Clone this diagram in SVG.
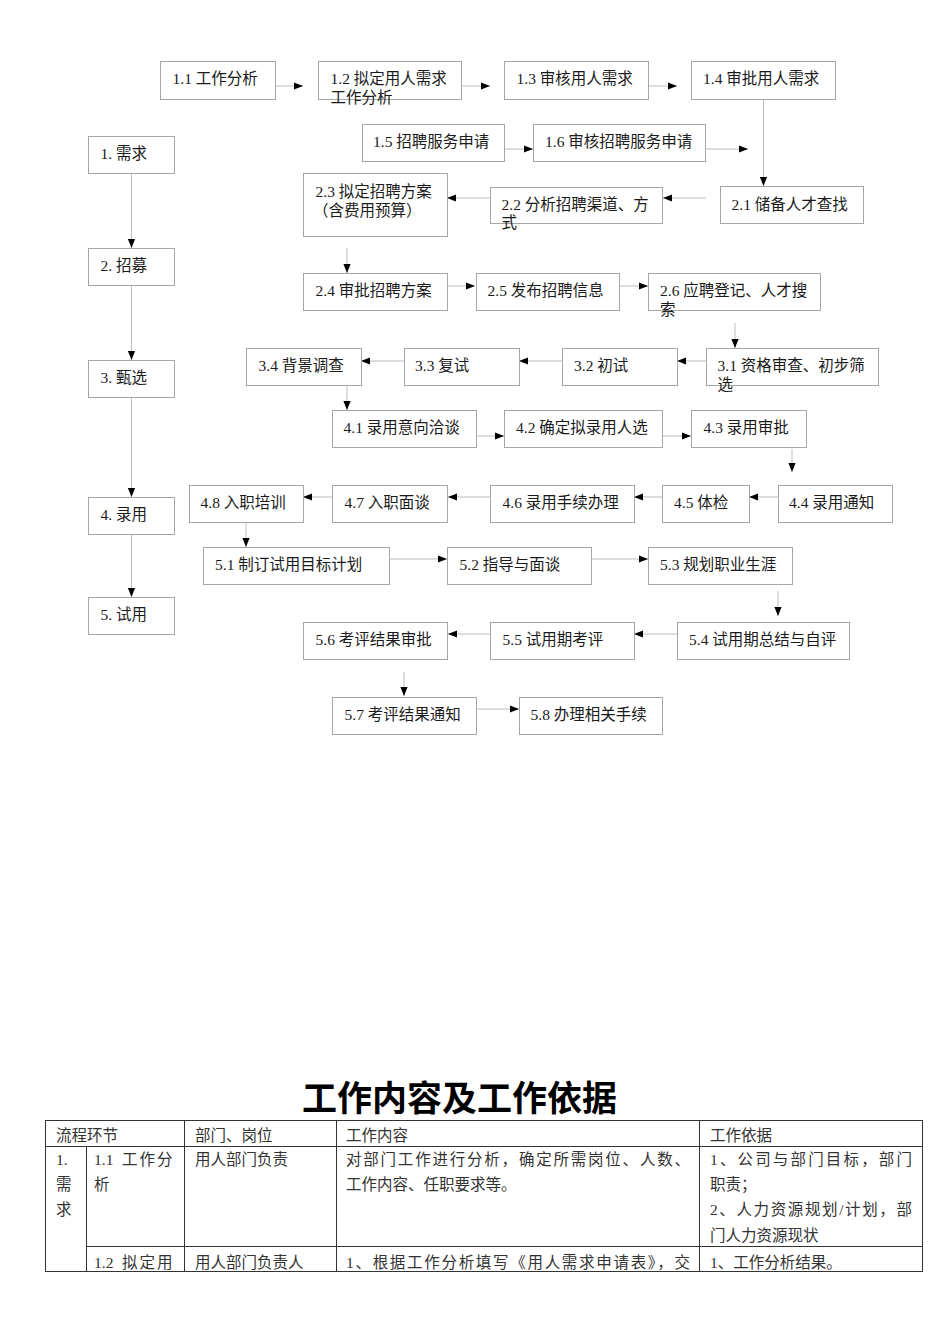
<svg xmlns="http://www.w3.org/2000/svg" width="950" height="1344" viewBox="0 0 950 1344">
<style>
.box{fill:#fff;stroke:#a6a6a6;stroke-width:1}
.t{font-family:"Liberation Serif","Noto Sans CJK SC",serif;font-size:15.5px;fill:#1a1a1a}
.c{stroke:#bdbdbd;stroke-width:1;fill:none;marker-end:url(#ah)}
.tb{stroke:#333;stroke-width:1;fill:none}
.tt{font-family:"Liberation Serif","Noto Sans CJK SC",serif;font-size:15.5px;fill:#333}
.title{font-family:"Noto Sans CJK SC","Liberation Sans",sans-serif;font-size:35px;font-weight:bold;fill:#000}
</style>
<defs>
<marker id="ah" viewBox="0 0 10 8" markerWidth="9" markerHeight="8" refX="10" refY="4" orient="auto" markerUnits="userSpaceOnUse">
<path d="M0,0 L10,4 L0,8 z" fill="#000"/>
</marker>
</defs>
<rect width="950" height="1344" fill="#fff"/>

<g id="connectors">
<line class="c" x1="275" y1="86" x2="303" y2="86"/>
<line class="c" x1="462" y1="86" x2="490" y2="86"/>
<line class="c" x1="648" y1="86" x2="677" y2="86"/>
<line class="c" x1="763.5" y1="99" x2="763.5" y2="186"/>
<line class="c" x1="504" y1="149" x2="533" y2="149"/>
<line class="c" x1="706" y1="149" x2="748" y2="149"/>
<line class="c" x1="706" y1="198" x2="663" y2="198"/>
<line class="c" x1="490" y1="198" x2="447" y2="198"/>
<line class="c" x1="347" y1="248" x2="347" y2="273"/>
<line class="c" x1="448" y1="286" x2="475" y2="286"/>
<line class="c" x1="619" y1="286" x2="648" y2="286"/>
<line class="c" x1="735" y1="323" x2="735" y2="348"/>
<line class="c" x1="706" y1="361" x2="677" y2="361"/>
<line class="c" x1="562" y1="361" x2="519" y2="361"/>
<line class="c" x1="404" y1="361" x2="361" y2="361"/>
<line class="c" x1="347" y1="386" x2="347" y2="410"/>
<line class="c" x1="476" y1="436" x2="504" y2="436"/>
<line class="c" x1="663" y1="436" x2="691" y2="436"/>
<line class="c" x1="792" y1="449" x2="792" y2="472"/>
<line class="c" x1="778" y1="497" x2="749" y2="497"/>
<line class="c" x1="662" y1="497" x2="634" y2="497"/>
<line class="c" x1="490" y1="497" x2="448" y2="497"/>
<line class="c" x1="332" y1="497" x2="303" y2="497"/>
<line class="c" x1="246" y1="522" x2="246" y2="547"/>
<line class="c" x1="389" y1="559" x2="447" y2="559"/>
<line class="c" x1="591" y1="559" x2="648" y2="559"/>
<line class="c" x1="778" y1="591" x2="778" y2="616"/>
<line class="c" x1="677" y1="634" x2="634" y2="634"/>
<line class="c" x1="490" y1="634" x2="448" y2="634"/>
<line class="c" x1="404" y1="672" x2="404" y2="696"/>
<line class="c" x1="476" y1="709" x2="519" y2="709"/>
<line class="c" x1="131.5" y1="173" x2="131.5" y2="248"/>
<line class="c" x1="131.5" y1="285" x2="131.5" y2="360"/>
<line class="c" x1="131.5" y1="397" x2="131.5" y2="497"/>
<line class="c" x1="131.5" y1="534" x2="131.5" y2="597"/>
</g>

<g id="s1"><rect class="box" x="88.5" y="136.5" width="86" height="37"/><text class="t" x="100.5" y="159">1. 需求</text></g>
<g id="s2"><rect class="box" x="88.5" y="248.5" width="86" height="37"/><text class="t" x="100.5" y="271">2. 招募</text></g>
<g id="s3"><rect class="box" x="88.5" y="360.5" width="86" height="37"/><text class="t" x="100.5" y="383">3. 甄选</text></g>
<g id="s4"><rect class="box" x="88.5" y="497.5" width="86" height="37"/><text class="t" x="100.5" y="520">4. 录用</text></g>
<g id="s5"><rect class="box" x="88.5" y="597.5" width="86" height="37"/><text class="t" x="100.5" y="620">5. 试用</text></g>

<g id="n1_1"><rect class="box" x="160.5" y="61.5" width="115" height="38"/><text class="t" x="172.5" y="84">1.1 工作分析</text></g>
<g id="n1_2"><rect class="box" x="318.5" y="61.5" width="143" height="38"/><text class="t" x="330.5" y="84">1.2 拟定用人需求</text><text class="t" x="330.5" y="102.5">工作分析</text></g>
<g id="n1_3"><rect class="box" x="504.5" y="61.5" width="144" height="38"/><text class="t" x="516.5" y="84">1.3 审核用人需求</text></g>
<g id="n1_4"><rect class="box" x="691.5" y="61.5" width="144" height="38"/><text class="t" x="703" y="84">1.4 审批用人需求</text></g>
<g id="n1_5"><rect class="box" x="362.5" y="124.5" width="142" height="37"/><text class="t" x="373" y="147">1.5 招聘服务申请</text></g>
<g id="n1_6"><rect class="box" x="533.5" y="124.5" width="172" height="37"/><text class="t" x="545" y="147">1.6 审核招聘服务申请</text></g>
<g id="n2_1"><rect class="box" x="720.5" y="186.5" width="143" height="37"/><text class="t" x="731.5" y="209.5">2.1 储备人才查找</text></g>
<g id="n2_2"><rect class="box" x="490.5" y="187.5" width="172" height="36"/><text class="t" x="501.5" y="209.5">2.2 分析招聘渠道、方</text><text class="t" x="501.5" y="228">式</text></g>
<g id="n2_3"><rect class="box" x="303.5" y="173.5" width="144" height="63"/><text class="t" x="315.5" y="197">2.3 拟定招聘方案</text><text class="t" x="313" y="216">（含费用预算）</text></g>
<g id="n2_4"><rect class="box" x="303.5" y="273.5" width="144" height="37"/><text class="t" x="315.5" y="296">2.4 审批招聘方案</text></g>
<g id="n2_5"><rect class="box" x="476.5" y="273.5" width="143" height="37"/><text class="t" x="487.5" y="296">2.5 发布招聘信息</text></g>
<g id="n2_6"><rect class="box" x="648.5" y="273.5" width="172" height="37"/><text class="t" x="660" y="296">2.6 应聘登记、人才搜</text><text class="t" x="660" y="314.5">索</text></g>
<g id="n3_1"><rect class="box" x="706.5" y="348.5" width="172" height="37"/><text class="t" x="717.5" y="371">3.1 资格审查、初步筛</text><text class="t" x="717.5" y="389.5">选</text></g>
<g id="n3_2"><rect class="box" x="562.5" y="348.5" width="115" height="37"/><text class="t" x="574" y="371">3.2 初试</text></g>
<g id="n3_3"><rect class="box" x="404.5" y="348.5" width="115" height="37"/><text class="t" x="415" y="371">3.3 复试</text></g>
<g id="n3_4"><rect class="box" x="246.5" y="348.5" width="115" height="37"/><text class="t" x="258.5" y="371">3.4 背景调查</text></g>
<g id="n4_1"><rect class="box" x="332.5" y="410.5" width="144" height="37"/><text class="t" x="343.5" y="433">4.1 录用意向洽谈</text></g>
<g id="n4_2"><rect class="box" x="504.5" y="410.5" width="158" height="37"/><text class="t" x="516" y="433">4.2 确定拟录用人选</text></g>
<g id="n4_3"><rect class="box" x="691.5" y="410.5" width="115" height="37"/><text class="t" x="703.5" y="433">4.3 录用审批</text></g>
<g id="n4_4"><rect class="box" x="778.5" y="485.5" width="114" height="37"/><text class="t" x="789" y="508">4.4 录用通知</text></g>
<g id="n4_5"><rect class="box" x="662.5" y="485.5" width="87" height="37"/><text class="t" x="674" y="508">4.5 体检</text></g>
<g id="n4_6"><rect class="box" x="490.5" y="485.5" width="144" height="37"/><text class="t" x="502.5" y="508">4.6 录用手续办理</text></g>
<g id="n4_7"><rect class="box" x="332.5" y="485.5" width="115" height="37"/><text class="t" x="344.5" y="508">4.7 入职面谈</text></g>
<g id="n4_8"><rect class="box" x="189.5" y="485.5" width="114" height="37"/><text class="t" x="200.5" y="508">4.8 入职培训</text></g>
<g id="n5_1"><rect class="box" x="203.5" y="547.5" width="186" height="37"/><text class="t" x="215" y="570">5.1 制订试用目标计划</text></g>
<g id="n5_2"><rect class="box" x="447.5" y="547.5" width="144" height="37"/><text class="t" x="459.5" y="570">5.2 指导与面谈</text></g>
<g id="n5_3"><rect class="box" x="648.5" y="547.5" width="144" height="37"/><text class="t" x="660" y="570">5.3 规划职业生涯</text></g>
<g id="n5_4"><rect class="box" x="677.5" y="622.5" width="172" height="37"/><text class="t" x="689" y="645">5.4 试用期总结与自评</text></g>
<g id="n5_5"><rect class="box" x="490.5" y="622.5" width="144" height="37"/><text class="t" x="502.5" y="645">5.5 试用期考评</text></g>
<g id="n5_6"><rect class="box" x="303.5" y="622.5" width="144" height="37"/><text class="t" x="315.5" y="645">5.6 考评结果审批</text></g>
<g id="n5_7"><rect class="box" x="332.5" y="697.5" width="144" height="37"/><text class="t" x="344.5" y="720">5.7 考评结果通知</text></g>
<g id="n5_8"><rect class="box" x="519.5" y="697.5" width="143" height="37"/><text class="t" x="530.5" y="720">5.8 办理相关手续</text></g>

<g id="table">
<text class="title" x="302" y="1111">工作内容及工作依据</text>
<rect class="tb" x="45.5" y="1120.5" width="877" height="151"/>
<line class="tb" x1="45" y1="1146.5" x2="923" y2="1146.5"/>
<line class="tb" x1="86" y1="1246.5" x2="923" y2="1246.5"/>
<line class="tb" x1="86.5" y1="1146" x2="86.5" y2="1272"/>
<line class="tb" x1="184.5" y1="1120" x2="184.5" y2="1272"/>
<line class="tb" x1="336.5" y1="1120" x2="336.5" y2="1272"/>
<line class="tb" x1="699.5" y1="1120" x2="699.5" y2="1272"/>
<text class="tt" x="56" y="1141">流程环节</text>
<text class="tt" x="195" y="1141">部门、岗位</text>
<text class="tt" x="346" y="1141">工作内容</text>
<text class="tt" x="710" y="1141">工作依据</text>
<text class="tt" x="56" y="1165">1.</text>
<text class="tt" x="56" y="1190">需</text>
<text class="tt" x="56" y="1215">求</text>
<text class="tt" x="94" y="1165">1.1 <tspan x="122 139.5 157">工作分</tspan></text>
<text class="tt" x="94" y="1190">析</text>
<text class="tt" x="195" y="1165">用人部门负责</text>
<text class="tt" x="346" y="1165" textLength="344" lengthAdjust="spacing">对部门工作进行分析，确定所需岗位、人数、</text>
<text class="tt" x="346" y="1190">工作内容、任职要求等。</text>
<text class="tt" x="710" y="1165" textLength="202" lengthAdjust="spacing">1、公司与部门目标，部门</text>
<text class="tt" x="710" y="1190">职责；</text>
<text class="tt" x="710" y="1215" textLength="202" lengthAdjust="spacing">2、人力资源规划/计划，部</text>
<text class="tt" x="710" y="1241">门人力资源现状</text>
<text class="tt" x="94" y="1268">1.2 <tspan x="122 139.5 157">拟定用</tspan></text>
<text class="tt" x="195" y="1268">用人部门负责人</text>
<text class="tt" x="346" y="1268" textLength="344" lengthAdjust="spacing">1、根据工作分析填写《用人需求申请表》，交</text>
<text class="tt" x="710" y="1268">1、工作分析结果。</text>
</g>
</svg>
